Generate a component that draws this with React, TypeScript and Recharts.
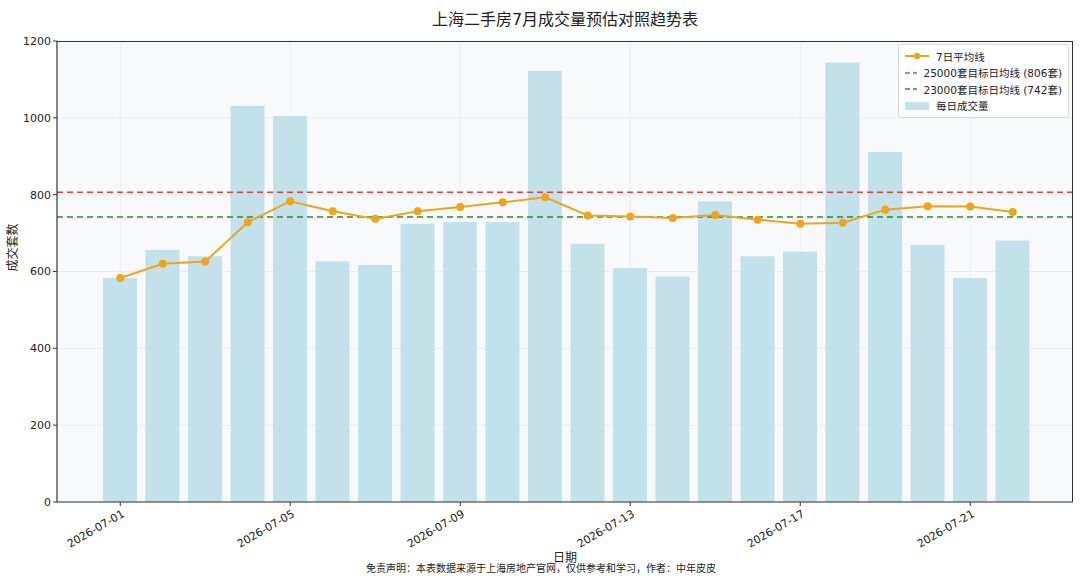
import React from "react";
import {
  ComposedChart,
  Bar,
  Line,
  XAxis,
  YAxis,
  CartesianGrid,
  ReferenceLine,
} from "recharts";

const dates = [
  "2026-07-01", "2026-07-02", "2026-07-03", "2026-07-04", "2026-07-05", "2026-07-06",
  "2026-07-07", "2026-07-08", "2026-07-09", "2026-07-10", "2026-07-11", "2026-07-12",
  "2026-07-13", "2026-07-14", "2026-07-15", "2026-07-16", "2026-07-17", "2026-07-18",
  "2026-07-19", "2026-07-20", "2026-07-21", "2026-07-22",
];

const daily = [
  583, 656, 640, 1031, 1005, 627, 617, 724, 729, 729, 1122,
  672, 609, 587, 782, 640, 652, 1144, 911, 669, 583, 681,
];

const avg7 = [
  583, 620, 626, 728, 783, 757, 737, 757, 768, 780, 793,
  746, 743, 739, 747, 735, 724, 727, 761, 770, 769, 755,
];

const yTicks = [0, 200, 400, 600, 800, 1000, 1200];

const target25000 = 806;
const target23000 = 742;

const FONT = "'DejaVu Sans', 'Noto Sans CJK SC', sans-serif";
const ORANGE = "#eea51d";
const BAR = "#c3e1ea";

// plot area in page pixels
const PLOT = { left: 57, top: 41, right: 1073, bottom: 502 };
const PAD_L = 42;
const PAD_R = 39;

const data = dates.map((d, i) => ({ date: d, daily: daily[i], avg: avg7[i] }));

function XTick(props: any) {
  const { x, y, payload } = props;
  const px = x + 1;
  const py = y + 1;
  return (
    <text
      x={px}
      y={py}
      transform={`rotate(-30, ${px}, ${py})`}
      textAnchor="end"
      dominantBaseline="hanging"
      fontSize={11}
      fill="#222"
      fontFamily={FONT}
    >
      {payload.value}
    </text>
  );
}

function LegendBox() {
  const row = { display: "flex", alignItems: "center", height: 16.5 } as const;
  const txt = { marginLeft: 7, fontSize: 10.5, color: "#222", whiteSpace: "nowrap" } as const;
  return (
    <div
      style={{
        position: "absolute",
        top: 44,
        left: 898,
        border: "1px solid #d8d8d8",
        borderRadius: 3,
        background: "rgba(255,255,255,0.9)",
        padding: "3px 6px 3px 6px",
        fontFamily: FONT,
        width: 157,
      }}
    >
      <div style={row}>
        <svg width={24} height={10}>
          <line x1={0} y1={5} x2={24} y2={5} stroke={ORANGE} strokeWidth={2} />
          <circle cx={12} cy={5} r={3.2} fill={ORANGE} />
        </svg>
        <span style={txt}>7日平均线</span>
      </div>
      <div style={row}>
        <svg width={24} height={10}>
          <line x1={0} y1={5} x2={24} y2={5} stroke="#e8413c" strokeWidth={1.5} strokeDasharray="5 3" />
        </svg>
        <span style={txt}>25000套目标日均线 ({target25000}套)</span>
      </div>
      <div style={row}>
        <svg width={24} height={10}>
          <line x1={0} y1={5} x2={24} y2={5} stroke="#2a8a2a" strokeWidth={1.5} strokeDasharray="5 3" />
        </svg>
        <span style={txt}>23000套目标日均线 ({target23000}套)</span>
      </div>
      <div style={row}>
        <svg width={24} height={10}>
          <rect x={0} y={1} width={24} height={8} fill={BAR} />
        </svg>
        <span style={txt}>每日成交量</span>
      </div>
    </div>
  );
}

export default function App() {
  const band = (PLOT.right - PLOT.left - PAD_L - PAD_R) / dates.length;
  return (
    <div
      style={{
        position: "absolute",
        left: 0,
        top: 0,
        width: 1080,
        height: 580,
        background: "#fff",
        fontFamily: FONT,
      }}
    >
      <div
        style={{
          position: "absolute",
          top: 6,
          left: 0,
          width: 1130,
          textAlign: "center",
          fontSize: 16,
          color: "#222",
        }}
      >
        上海二手房7月成交量预估对照趋势表
      </div>
      <ComposedChart
        width={1080}
        height={580}
        data={data}
        margin={{ top: PLOT.top, right: 1080 - PLOT.right, bottom: 0, left: 0 }}
      >
        <CartesianGrid
          stroke="#eaedf0"
          fill="#f7f9fb"
          verticalCoordinatesGenerator={() =>
            [0, 4, 8, 12, 16, 20].map((i) => PLOT.left + PAD_L + band * i + band / 2)
          }
        />
        <XAxis
          dataKey="date"
          interval={3}
          padding={{ left: PAD_L, right: PAD_R }}
          tick={<XTick />}
          tickSize={4}
          tickLine={{ stroke: "#333" }}
          axisLine={{ stroke: "#333", strokeWidth: 1.2 }}
          height={580 - PLOT.bottom}
          label={{ value: "日期", position: "insideBottom", offset: 18, fontSize: 12, fill: "#222" }}
        />
        <YAxis
          domain={[0, 1200]}
          ticks={yTicks}
          width={PLOT.left}
          tickSize={4}
          tick={{ fontSize: 11, fill: "#222", fontFamily: FONT }}
          tickLine={{ stroke: "#333" }}
          axisLine={{ stroke: "#333", strokeWidth: 1.2 }}
          label={{ value: "成交套数", angle: -90, position: "insideLeft", offset: 13, fontSize: 12, fill: "#222" }}
        />
        <Bar dataKey="daily" fill={BAR} barSize={34} isAnimationActive={false} />
        <ReferenceLine y={target25000} stroke="#e8413c" strokeWidth={1.5} strokeDasharray="6 4" />
        <ReferenceLine y={target23000} stroke="#2a8a2a" strokeWidth={1.5} strokeDasharray="6 4" />
        <Line
          dataKey="avg"
          stroke={ORANGE}
          strokeWidth={2}
          dot={{ r: 3, fill: ORANGE, stroke: ORANGE }}
          isAnimationActive={false}
        />
      </ComposedChart>
      {/* frame of the plot area (top and right spines) */}
      <div
        style={{
          position: "absolute",
          left: PLOT.left,
          top: PLOT.top,
          width: PLOT.right - PLOT.left,
          height: PLOT.bottom - PLOT.top,
          borderTop: "1.2px solid #333",
          borderRight: "1.2px solid #333",
          boxSizing: "border-box",
          pointerEvents: "none",
        }}
      />
      <LegendBox />
      <div
        style={{
          position: "absolute",
          top: 560,
          left: 0,
          width: 1082,
          textAlign: "center",
          fontSize: 10,
          color: "#222",
        }}
      >
        免责声明：本表数据来源于上海房地产官网，仅供参考和学习，作者：中年皮皮
      </div>
    </div>
  );
}
